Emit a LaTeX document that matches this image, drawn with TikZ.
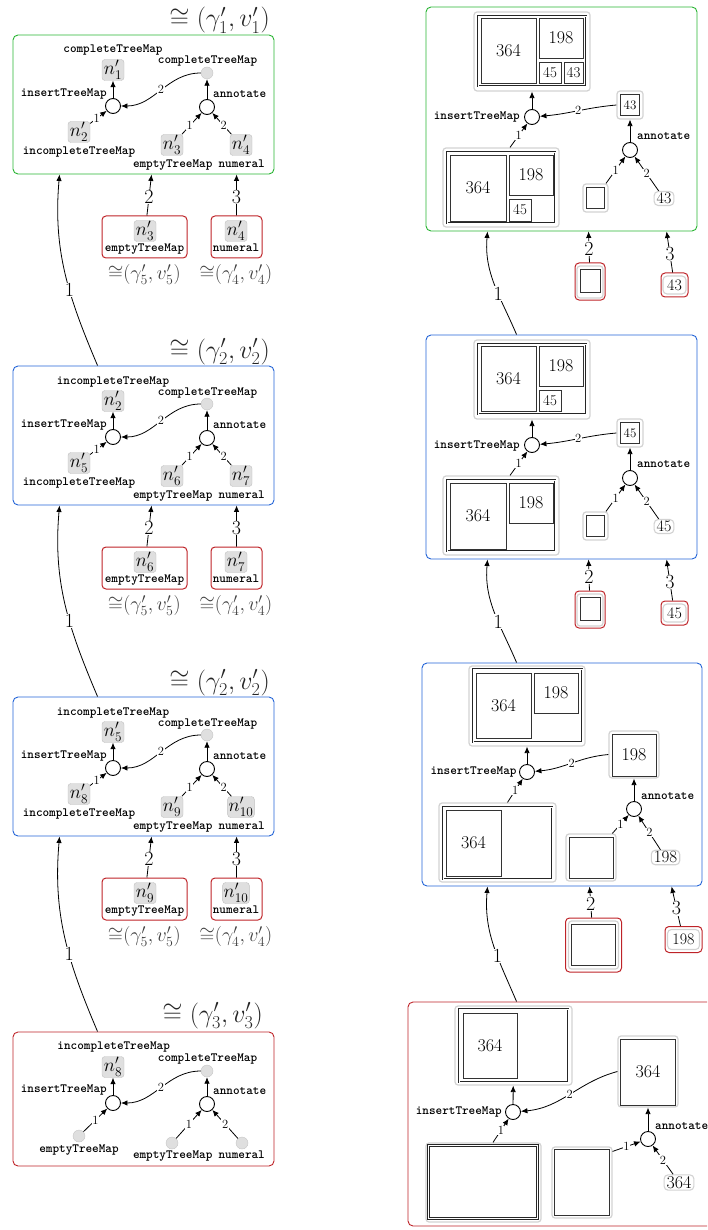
\documentclass[tikz,border=0pt]{standalone}
\usepackage{fix-cm}
\usepackage{tikz}
\usetikzlibrary{arrows.meta,positioning}
\definecolor{grnC}{RGB}{40,180,50}
\definecolor{bluC}{RGB}{35,100,215}
\definecolor{redC}{RGB}{190,35,40}
\tikzset{
  %% panels and titles
  panel/.style={rounded corners=5pt, line width=0.9pt, inner sep=0pt},
  sz/.style n args={2}{minimum width=#1pt, minimum height=#2pt},
  ttl/.style={font=\fontsize{26}{30}\selectfont, text=black!85, inner sep=0pt},
  iso/.style={font=\fontsize{20}{22}\selectfont, text=black!75, inner sep=0pt},
  %% term graphs
  tt/.style={font=\fontsize{12.6}{14}\selectfont\ttfamily\bfseries, inner sep=0pt},
  term/.style={draw=gray!50, fill=gray!25, rounded corners=3pt, sz={22}{21},
    inner sep=1pt, font=\fontsize{19}{21}\selectfont},
  op/.style={circle, draw, line width=0.9pt, fill=white, minimum size=15pt, inner sep=0pt},
  hole/.style={circle, draw=gray!45, fill=gray!25, minimum size=12pt, inner sep=0pt},
  edge/.style={-{Latex[length=6.5pt,width=5.5pt]}, line width=0.8pt},
  elab/.style={fill=white, inner sep=0.6pt, font=\fontsize{12.5}{13}\selectfont},
  bignum/.style={fill=white, inner sep=0.6pt, font=\fontsize{20}{21}\selectfont},
  %% tree maps
  tmframe/.style={draw=gray!35, line width=1.2pt, rounded corners=3pt, inner sep=0pt},
  tmdouble/.style={draw=black!85, double=white, double distance=0.9pt, line width=0.7pt, inner sep=0pt},
  cell/.style={draw=black!80, line width=0.9pt, inner sep=0pt, font=\fontsize{18}{20}\selectfont},
  scell/.style={cell, font=\fontsize{15}{16}\selectfont},
  numbox/.style={draw=gray!35, line width=1.1pt, rounded corners=4pt, inner xsep=2.5pt,
    inner ysep=1.5pt, font=\fontsize{16}{17}\selectfont},
  redbox/.style={draw=redC, line width=1pt, rounded corners=4pt, inner sep=0pt},
}
\begin{document}
\begin{tikzpicture}[x=1pt, y=1pt]
\useasboundingbox (0,0) rectangle (707,-1230);
\clip (0,0) rectangle (707,-1230);

%% Left column, panels 1-3
\foreach \k/\dy/\col/\g/\ttop/\na/\nb/\nc/\nd in {%
    1/0/grnC/1/completeTreeMap/1/2/3/4,
    2/331/bluC/2/incompleteTreeMap/2/5/6/7,
    3/662/bluC/2/incompleteTreeMap/5/8/9/10}{
\begin{scope}[yshift=-\dy pt]
  \node[panel, draw=\col, sz={261}{139}] (L\k) at (143.5,-104.5) {};
  \node[ttl, anchor=base east] (L\k-t) at (270,-27) {$\cong (\gamma'_{\g}, v'_{\g})$};
  \node[term] (L\k-o) at (113,-70) {$n'_{\na}$};
  \node[tt, anchor=base] (L\k-ol) at (113,-53) {\ttop};
  \node[op] (L\k-i) at (113,-106) {};
  \node[tt, anchor=base east] (L\k-il) at (107,-96.5) {insertTreeMap};
  \node[term] (L\k-x) at (79,-132) {$n'_{\nb}$};
  \node[tt, anchor=base] (L\k-xl) at (79,-154.3) {incompleteTreeMap};
  \node[hole] (L\k-h) at (207,-73) {};
  \node[tt, anchor=base] (L\k-hl) at (207.5,-64) {completeTreeMap};
  \node[op] (L\k-a) at (207,-107) {};
  \node[tt, anchor=base west] (L\k-al) at (213,-97.5) {annotate};
  \node[term] (L\k-e) at (172,-145) {$n'_{\nc}$};
  \node[tt, anchor=base] (L\k-el) at (172.7,-167.7) {emptyTreeMap};
  \node[term] (L\k-n) at (241,-145) {$n'_{\nd}$};
  \node[tt, anchor=base] (L\k-nl) at (241.7,-167.7) {numeral};
  \draw[edge] (L\k-i) -- (L\k-o);
  \draw[edge] (L\k-x) -- node[elab, pos=0.4]{1} (L\k-i);
  \draw[edge] (L\k-h) to[out=180, in=0] node[elab]{2} (L\k-i);
  \draw[edge] (L\k-a) -- (L\k-h);
  \draw[edge] (L\k-e) -- node[elab, pos=0.4]{1} (L\k-a);
  \draw[edge] (L\k-n) -- node[elab, pos=0.4]{2} (L\k-a);
  %% inputs below the panel
  \node[redbox, sz={85}{42}] (L\k-r2) at (144.5,-237) {};
  \node[term] (L\k-m2) at (145,-231) {$n'_{\nc}$};
  \node[tt, anchor=base] (L\k-m2l) at (144.5,-251.7) {emptyTreeMap};
  \node[iso, anchor=base] (L\k-s2) at (144.2,-279.5) {${\cong}(\gamma'_5, v'_5)$};
  \node[redbox, sz={51}{42}] (L\k-r3) at (236.5,-237) {};
  \node[term] (L\k-m3) at (236,-231) {$n'_{\nd}$};
  \node[tt, anchor=base] (L\k-m3l) at (236,-251.7) {numeral};
  \node[iso, anchor=base] (L\k-s3) at (235.8,-279.5) {${\cong}(\gamma'_4, v'_4)$};
  \draw[edge] (L\k-r2) -- node[bignum, pos=0.45]{2} ([xshift=139pt]L\k.south west);
  \draw[edge] (L\k-r3) -- node[bignum, pos=0.45]{3} ([xshift=224pt]L\k.south west);
\end{scope}}

%% Left column, panel 4
\begin{scope}[yshift=-997pt]
  \node[panel, draw=redC, sz={261}{134}] (L4) at (143.5,-102) {};
  \node[ttl, anchor=base east] (L4-t) at (263,-25) {$\cong (\gamma'_3, v'_3)$};
  \node[term] (L4-o) at (113,-70) {$n'_8$};
  \node[tt, anchor=base] (L4-ol) at (113.7,-52) {incompleteTreeMap};
  \node[op] (L4-i) at (113,-106) {};
  \node[tt, anchor=base east] (L4-il) at (107,-95) {insertTreeMap};
  \node[hole] (L4-x) at (79,-139) {};
  \node[tt, anchor=base] (L4-xl) at (79,-155.3) {emptyTreeMap};
  \node[hole] (L4-h) at (207,-74) {};
  \node[tt, anchor=base] (L4-hl) at (207.5,-64) {completeTreeMap};
  \node[op] (L4-a) at (207,-107) {};
  \node[tt, anchor=base west] (L4-al) at (213,-97.5) {annotate};
  \node[hole] (L4-e) at (172,-146) {};
  \node[tt, anchor=base] (L4-el) at (172.7,-161.3) {emptyTreeMap};
  \node[hole] (L4-n) at (242,-146) {};
  \node[tt, anchor=base] (L4-nl) at (241.7,-161.3) {numeral};
  \draw[edge] (L4-i) -- (L4-o);
  \draw[edge] (L4-x) -- node[elab]{1} (L4-i);
  \draw[edge] (L4-h) to[out=180, in=0] node[elab]{2} (L4-i);
  \draw[edge] (L4-a) -- (L4-h);
  \draw[edge] (L4-e) -- node[elab]{1} (L4-a);
  \draw[edge] (L4-n) -- node[elab]{2} (L4-a);
\end{scope}

%% Left column, links between panels
\foreach \k/\j in {2/1, 3/2, 4/3}
  \draw[edge] ([xshift=85pt]L\k.north west) to[out=113, in=-95]
    node[bignum, pos=0.4]{1} ([xshift=47pt]L\j.south west);

%% Right column, panel 1
\node[panel, draw=grnC, sz={271}{224}] (R1) at (561.5,-119) {};
\node[tmframe, sz={116}{79}] (R1-o) at (532,-51.5) {};
\node[tmdouble, sz={108}{70}] (R1-od) at (532,-51) {};
\node[cell, sz={55}{65}] (R1-o1) at (508.5,-50.5) {364};
\node[cell, sz={44}{40}] (R1-o2) at (561,-38) {198};
\node[scell, sz={22}{21}] (R1-o3) at (550,-72.5) {45};
\node[scell, sz={19}{21}] (R1-o4) at (573.5,-72.5) {43};
\node[op] (R1-i) at (532,-117) {};
\node[tt, anchor=base east] (R1-il) at (520,-120) {insertTreeMap};
\node[tmframe, sz={26}{28}] (R1-b) at (630,-105) {};
\node[cell, sz={19}{21}, font=\fontsize{13}{14}\selectfont] (R1-b1) at (630,-105) {43};
\node[op] (R1-a) at (630,-150) {};
\node[tt, anchor=base west] (R1-al) at (637,-139.3) {annotate};
\node[tmframe, sz={116}{79}] (R1-x) at (501,-187.5) {};
\node[tmdouble, sz={108}{71}] (R1-xd) at (501,-187.5) {};
\node[cell, sz={56}{66}] (R1-x1) at (478,-188) {364};
\node[cell, sz={44}{40}] (R1-x2) at (531,-175) {198};
\node[scell, sz={22}{22}] (R1-x3) at (520,-210) {45};
\node[tmframe, sz={25}{28}] (R1-e) at (595.5,-198) {};
\node[cell, sz={18}{21}] (R1-e1) at (595.5,-198) {};
\node[numbox] (R1-n) at (664,-198.5) {43};
\draw[edge] (R1-i) -- (R1-o);
\draw[edge] ([xshift=9pt]R1-x.north) -- node[elab]{1} (R1-i);
\draw[edge] (R1-b.west) to[out=185, in=5] node[elab]{2} (R1-i);
\draw[edge] (R1-a) -- (R1-b);
\draw[edge] (R1-e) -- node[elab]{1} (R1-a);
\draw[edge] (R1-n) -- node[elab]{2} (R1-a);
%% inputs
\node[redbox, sz={30}{37}] (R1-r2) at (590,-281.5) {};
\node[tmframe, sz={26}{32}] (R1-r2f) at (590,-282) {};
\node[cell, sz={20}{23}] (R1-r2c) at (590,-281) {};
\node[redbox, sz={27}{24}] (R1-r3) at (674.5,-285) {};
\node[numbox, sz={23}{18}, inner sep=0pt] (R1-r3n) at (674.5,-285) {43};
\draw[edge] (R1-r2) -- node[bignum, pos=0.45]{2} ([xshift=163pt]R1.south west);
\draw[edge] (R1-r3) -- node[bignum, pos=0.45]{3} ([xshift=241pt]R1.south west);

%% Right column, panel 2
\begin{scope}[yshift=-328pt]
  \node[panel, draw=bluC, sz={271}{224}] (R2) at (561.5,-119) {};
  \node[tmframe, sz={116}{79}] (R2-o) at (532,-51.5) {};
  \node[tmdouble, sz={108}{70}] (R2-od) at (532,-51) {};
  \node[cell, sz={55}{65}] (R2-o1) at (508.5,-50.5) {364};
  \node[cell, sz={44}{40}] (R2-o2) at (561,-38) {198};
  \node[scell, sz={22}{21}] (R2-o3) at (550,-72.5) {45};
  \node[op] (R2-i) at (532,-117) {};
  \node[tt, anchor=base east] (R2-il) at (520,-120) {insertTreeMap};
  \node[tmframe, sz={26}{28}] (R2-b) at (630,-105) {};
  \node[cell, sz={19}{21}, font=\fontsize{13}{14}\selectfont] (R2-b1) at (630,-105) {45};
  \node[op] (R2-a) at (630,-150) {};
  \node[tt, anchor=base west] (R2-al) at (637,-139.3) {annotate};
  \node[tmframe, sz={116}{79}] (R2-x) at (501,-187.5) {};
  \node[tmdouble, sz={108}{71}] (R2-xd) at (501,-187.5) {};
  \node[cell, sz={56}{66}] (R2-x1) at (478,-188) {364};
  \node[cell, sz={44}{40}] (R2-x2) at (531,-175) {198};
  \node[tmframe, sz={25}{28}] (R2-e) at (595.5,-198) {};
  \node[cell, sz={18}{21}] (R2-e1) at (595.5,-198) {};
  \node[numbox] (R2-n) at (664,-198.5) {45};
  \draw[edge] (R2-i) -- (R2-o);
  \draw[edge] ([xshift=9pt]R2-x.north) -- node[elab]{1} (R2-i);
  \draw[edge] (R2-b.west) to[out=185, in=5] node[elab]{2} (R2-i);
  \draw[edge] (R2-a) -- (R2-b);
  \draw[edge] (R2-e) -- node[elab]{1} (R2-a);
  \draw[edge] (R2-n) -- node[elab]{2} (R2-a);
  %% inputs
  \node[redbox, sz={30}{37}] (R2-r2) at (590,-281.5) {};
  \node[tmframe, sz={26}{32}] (R2-r2f) at (590,-282) {};
  \node[cell, sz={20}{23}] (R2-r2c) at (590,-281) {};
  \node[redbox, sz={27}{24}] (R2-r3) at (674.5,-285) {};
  \node[numbox, sz={23}{18}, inner sep=0pt] (R2-r3n) at (674.5,-285) {45};
  \draw[edge] (R2-r2) -- node[bignum, pos=0.45]{2} ([xshift=163pt]R2.south west);
  \draw[edge] (R2-r3) -- node[bignum, pos=0.45]{3} ([xshift=241pt]R2.south west);
\end{scope}

%% Right column, panel 3
\node[panel, draw=bluC, sz={280}{223}] (R3) at (562,-774.5) {};
\node[tmframe, sz={116}{80}] (R3-o) at (527,-706) {};
\node[tmdouble, sz={109}{73}] (R3-od) at (527.5,-705.5) {};
\node[cell, sz={55}{65}] (R3-o1) at (503.5,-705.5) {364};
\node[cell, sz={44}{40}] (R3-o2) at (556,-693) {198};
\node[op] (R3-i) at (527,-772) {};
\node[tt, anchor=base east] (R3-il) at (516.7,-774.5) {insertTreeMap};
\node[tmframe, sz={50}{47}] (R3-b) at (634,-754.5) {};
\node[cell, sz={44}{42}] (R3-b1) at (634,-755) {198};
\node[op] (R3-a) at (634,-809) {};
\node[tt, anchor=base west] (R3-al) at (641,-799) {annotate};
\node[tmframe, sz={117}{79}] (R3-x) at (497.5,-842.5) {};
\node[tmdouble, sz={109}{72}] (R3-xd) at (497.5,-843) {};
\node[cell, sz={55}{66}] (R3-x1) at (473.5,-843) {364};
\node[tmframe, sz={50}{47}] (R3-e) at (591,-857.5) {};
\node[cell, sz={44}{41}] (R3-e1) at (591,-857.5) {};
\node[numbox, font=\fontsize{17}{18}\selectfont] (R3-n) at (665.5,-857.5) {198};
\draw[edge] (R3-i) -- (R3-o);
\draw[edge] ([xshift=10pt]R3-x.north) -- node[elab]{1} (R3-i);
\draw[edge] (R3-b.west) to[out=185, in=5] node[elab]{2} (R3-i);
\draw[edge] (R3-a) -- (R3-b);
\draw[edge] (R3-e) -- node[elab]{1} (R3-a);
\draw[edge] (R3-n) -- node[elab]{2} (R3-a);
%% inputs
\node[redbox, sz={56}{54}] (R3-r2) at (593.5,-945) {};
\node[tmframe, sz={50}{48}] (R3-r2f) at (593.5,-945) {};
\node[cell, sz={44}{41}] (R3-r2c) at (593.5,-945) {};
\node[redbox, sz={37}{26}] (R3-r3) at (683.5,-939.5) {};
\node[numbox, sz={32}{20}, inner sep=0pt] (R3-r3n) at (683.5,-939.5) {198};
\draw[edge] (R3-r2) -- node[bignum, pos=0.45]{2} ([xshift=168pt]R3.south west);
\draw[edge] (R3-r3) -- node[bignum, pos=0.45]{3} ([xshift=250pt]R3.south west);

%% Right column, panel 4
\node[panel, draw=redC, sz={312}{224}] (R4) at (564,-1114) {};
\node[tmframe, sz={117}{79}] (R4-o) at (513.5,-1045.5) {};
\node[tmdouble, sz={109}{73}] (R4-od) at (513.5,-1045.5) {};
\node[cell, sz={54}{65}] (R4-o1) at (490,-1045.5) {364};
\node[op] (R4-i) at (513,-1112) {};
\node[tt, anchor=base east] (R4-il) at (502,-1114.5) {insertTreeMap};
\node[tmframe, sz={60}{71}] (R4-b) at (648,-1071.5) {};
\node[cell, sz={55}{66}] (R4-b1) at (648,-1072) {364};
\node[op] (R4-a) at (648,-1139) {};
\node[tt, anchor=base west] (R4-al) at (655,-1129.3) {annotate};
\node[tmframe, sz={115}{79}] (R4-x) at (483.5,-1182.5) {};
\node[tmdouble, sz={109}{73}] (R4-xd) at (483,-1182) {};
\node[tmframe, sz={60}{71}] (R4-e) at (582,-1182.5) {};
\node[cell, sz={55}{66}] (R4-e1) at (582,-1182.5) {};
\node[numbox, font=\fontsize{18}{19}\selectfont] (R4-n) at (679,-1182.5) {364};
\draw[edge] (R4-i) -- (R4-o);
\draw[edge] ([xshift=9.5pt]R4-x.north) -- node[elab]{1} (R4-i);
\draw[edge] (R4-b.west) to[out=195, in=5] node[elab]{2} (R4-i);
\draw[edge] (R4-a) -- (R4-b);
\draw[edge] ([yshift=-5pt]R4-e.north east) -- node[elab]{1} (R4-a);
\draw[edge] (R4-n) -- node[elab]{2} (R4-a);

%% Right column, links between panels
\draw[edge] ([xshift=91pt]R2.north west) to[out=113, in=-95]
  node[bignum, pos=0.4]{1} ([xshift=62pt]R1.south west);
\draw[edge] ([xshift=95pt]R3.north west) to[out=113, in=-95]
  node[bignum, pos=0.4]{1} ([xshift=62pt]R2.south west);
\draw[edge] ([xshift=109pt]R4.north west) to[out=113, in=-95]
  node[bignum, pos=0.4]{1} ([xshift=66pt]R3.south west);

\end{tikzpicture}
\end{document}
